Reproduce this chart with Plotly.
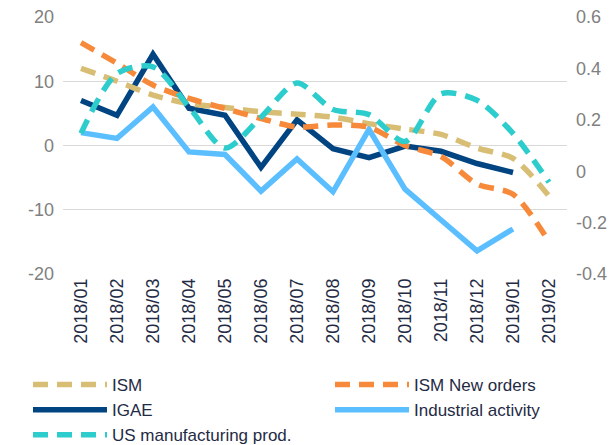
import plotly.graph_objects as go

categories = ["2018/01", "2018/02", "2018/03", "2018/04", "2018/05", "2018/06", "2018/07",
              "2018/08", "2018/09", "2018/10", "2018/11", "2018/12", "2019/01", "2019/02"]

# right axis series
ism = [0.40, 0.35, 0.296, 0.263, 0.248, 0.231, 0.222, 0.210, 0.185, 0.164, 0.143, 0.090, 0.050, -0.097]
ism_new_orders = [0.50, 0.42, 0.335, 0.283, 0.244, 0.205, 0.172, 0.180, 0.171, 0.100, 0.057, -0.050, -0.090, -0.275]
us_manufacturing = [0.147, 0.38, 0.406, 0.25, 0.09, 0.21, 0.343, 0.240, 0.220, 0.116, 0.301, 0.276, 0.147, -0.043]

# left axis series
igae = [7.0, 4.7, 14.2, 5.8, 4.7, -3.4, 4.0, -0.5, -1.9, -0.1, -0.9, -2.8, -4.2]
industrial_activity = [2.0, 1.1, 6.0, -1.0, -1.4, -7.1, -2.1, -7.2, 2.5, -6.8, -11.6, -16.4, -13.0]

left_ticks = [-20, -10, 0, 10, 20]
left_ticktext = ["-20", "-10", "0", "10", "20"]
right_ticks = [-0.4, -0.2, 0, 0.2, 0.4, 0.6]
right_ticktext = ["-0.4", "-0.2", "0", "0.2", "0.4", "0.6"]

C_ISM = "#D8BE75"
C_NO = "#F7893B"
C_IGAE = "#004481"
C_IA = "#5BBEFF"
C_US = "#2DCCCD"

FONT = "Liberation Sans, Arial, sans-serif"
TXT = "#1F2B45"
GREY = "#808080"
DASH = "15px,9px"

fig = go.Figure()

fig.add_trace(go.Scatter(x=categories, y=ism, name="ISM", yaxis="y2", mode="lines", legend="legend",
                         line=dict(color=C_ISM, width=5.5, dash=DASH, shape="spline", smoothing=0.8)))
fig.add_trace(go.Scatter(x=categories, y=ism_new_orders, name="ISM New orders", yaxis="y2", mode="lines",
                         legend="legend2",
                         line=dict(color=C_NO, width=5.5, dash=DASH, shape="spline", smoothing=0.8)))
fig.add_trace(go.Scatter(x=categories[:len(igae)], y=igae, name="IGAE", mode="lines", legend="legend",
                         line=dict(color=C_IGAE, width=5.5)))
fig.add_trace(go.Scatter(x=categories[:len(industrial_activity)], y=industrial_activity,
                         name="Industrial activity", mode="lines", legend="legend2",
                         line=dict(color=C_IA, width=5.5)))
fig.add_trace(go.Scatter(x=categories, y=us_manufacturing, name="US manufacturing prod.", yaxis="y2",
                         mode="lines", legend="legend",
                         line=dict(color=C_US, width=5.5, dash=DASH, shape="spline", smoothing=0.8)))

legend_common = dict(
    orientation="v", xref="container", yref="container",
    xanchor="left", yanchor="top",
    itemwidth=74,
    font=dict(family=FONT, size=17, color=TXT),
    bgcolor="rgba(0,0,0,0)",
    traceorder="normal",
    tracegroupgap=0,
)

fig.update_layout(
    width=616, height=445,
    margin=dict(l=63, r=49, t=17, b=171, autoexpand=False),
    paper_bgcolor="white", plot_bgcolor="white",
    font=dict(family=FONT, size=18, color=TXT),
    showlegend=True,
    legend=dict(legend_common, x=28 / 616, y=1 - 367 / 445),
    legend2=dict(legend_common, x=330 / 616, y=1 - 367 / 445),
    xaxis=dict(
        type="category", tickangle=-90, showgrid=False, showline=False, ticks="",
        tickfont=dict(family=FONT, size=18, color=TXT), automargin=False,
        range=[-0.5, len(categories) - 0.5],
    ),
    yaxis=dict(
        range=[-20, 20], tickvals=left_ticks, ticktext=left_ticktext,
        showgrid=True, gridcolor="#D9D9D9", gridwidth=1, zeroline=False, showline=False,
        tickfont=dict(family=FONT, size=18, color=GREY), ticks="", automargin=False,
        ticklabelstandoff=8,
    ),
    yaxis2=dict(
        range=[-0.4, 0.6], tickvals=right_ticks, ticktext=right_ticktext,
        overlaying="y", side="right", showgrid=False, zeroline=False, showline=False,
        tickfont=dict(family=FONT, size=18, color=GREY), ticks="", automargin=False,
        ticklabelstandoff=8,
    ),
)

# dashed zero reference line of the left axis
fig.add_shape(type="line", xref="paper", x0=0, x1=1, yref="y", y0=0, y1=0,
              line=dict(color="#7F7F7F", width=1, dash="3px,2px"), layer="below")

fig.write_html(
    "out.html",
    config={"displayModeBar": False},
    post_script="document.body.style.margin='0';document.body.style.overflow='hidden';",
)
